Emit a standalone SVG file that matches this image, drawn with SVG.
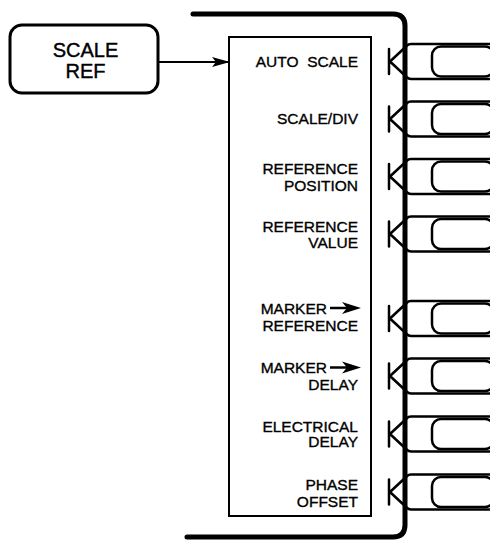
<svg xmlns="http://www.w3.org/2000/svg" width="490" height="540" viewBox="0 0 490 540">
  <defs>
    <style>
      .t { font-family: "Liberation Sans", Arial, sans-serif; font-size: 15.5px; fill: #000; stroke: #000; stroke-width: 0.35; text-anchor: end; white-space: pre; }
      .big { font-family: "Liberation Sans", Arial, sans-serif; font-size: 20px; fill: #000; stroke: #000; stroke-width: 0.4; text-anchor: middle; }
      .ln { fill: none; stroke: #000; stroke-width: 2.5; stroke-linejoin: round; stroke-linecap: round; }
      .thick { fill: none; stroke: #000; stroke-width: 5; stroke-linecap: round; }
      .key { fill: none; stroke: #000; stroke-width: 2.5; }
    </style>
    <marker id="ah" viewBox="0 0 18 10" refX="18" refY="5" markerWidth="18" markerHeight="10" markerUnits="userSpaceOnUse" orient="auto">
      <path d="M0,0 L18,5 L0,10 L4,5 Z" fill="#000"/>
    </marker>
    <g id="k">
      <rect class="key" x="405" y="-17.5" width="100" height="35" rx="6"/>
      <rect class="key" x="432" y="-15" width="62" height="30" rx="9"/>
      <path class="ln" d="M389,-12.5 L389,12.5 M405,-14 L390,0 L405,14"/>
    </g>
    <g id="mk">
      <line x1="330" y1="0" x2="347" y2="0" stroke="#000" stroke-width="2.5"/>
      <path d="M361,0 L342,-6 L347,0 L342,6 Z" fill="#000"/>
    </g>
  </defs>

  <g id="scale-ref">
    <rect x="10" y="25" width="148" height="68" rx="12" fill="none" stroke="#000" stroke-width="3"/>
    <text class="big" x="85.5" y="57">SCALE</text>
    <text class="big" x="85.5" y="78">REF</text>
  </g>

  <g id="connectors">
    <line x1="158" y1="62" x2="230" y2="62" stroke="#000" stroke-width="2" marker-end="url(#ah)"/>
  </g>

  <g id="frame">
    <path class="thick" d="M193,14 L393,14 Q405,14 405,26 L405,525 Q405,537 393,537 L187,537"/>
  </g>

  <g id="menu-panel">
    <rect x="229" y="37" width="142" height="479" fill="none" stroke="#000" stroke-width="2"/>
  </g>

  <g id="softkey-1">
    <use href="#k" transform="translate(0,61.5)"/>
    <text class="t" x="358" y="67" xml:space="preserve">AUTO  SCALE</text>
  </g>
  <g id="softkey-2">
    <use href="#k" transform="translate(0,119)"/>
    <text class="t" x="358" y="123.5">SCALE/DIV</text>
  </g>
  <g id="softkey-3">
    <use href="#k" transform="translate(0,176.5)"/>
    <text class="t" x="358" y="174">REFERENCE</text>
    <text class="t" x="358" y="190.5">POSITION</text>
  </g>
  <g id="softkey-4">
    <use href="#k" transform="translate(0,234)"/>
    <text class="t" x="358" y="232">REFERENCE</text>
    <text class="t" x="358" y="248">VALUE</text>
  </g>
  <g id="softkey-5">
    <use href="#k" transform="translate(0,318.5)"/>
    <text class="t" x="327" y="313.5">MARKER</text>
    <use href="#mk" transform="translate(0,308)"/>
    <text class="t" x="358" y="331">REFERENCE</text>
  </g>
  <g id="softkey-6">
    <use href="#k" transform="translate(0,376)"/>
    <text class="t" x="327" y="373">MARKER</text>
    <use href="#mk" transform="translate(0,367.5)"/>
    <text class="t" x="358" y="390">DELAY</text>
  </g>
  <g id="softkey-7">
    <use href="#k" transform="translate(0,434)"/>
    <text class="t" x="358" y="431.5">ELECTRICAL</text>
    <text class="t" x="358" y="447">DELAY</text>
  </g>
  <g id="softkey-8">
    <use href="#k" transform="translate(0,492)"/>
    <text class="t" x="358" y="489.5">PHASE</text>
    <text class="t" x="358" y="506.5">OFFSET</text>
  </g>
</svg>
